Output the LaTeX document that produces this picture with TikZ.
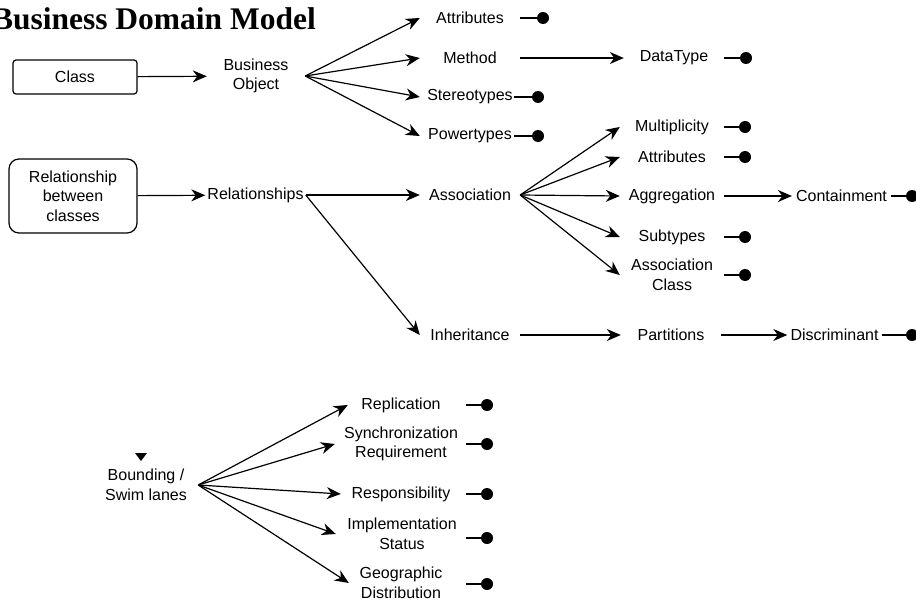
\documentclass[tikz,border=0pt]{standalone}
\usepackage{fontspec}
\setmainfont{Liberation Sans}
\newfontfamily\titlefont{Liberation Serif}
\usetikzlibrary{arrows.meta}
\begin{document}
\begin{tikzpicture}[x=1pt,y=-1pt,
  lbl/.style={inner sep=0pt, align=center, font=\fontsize{16}{19.5}\selectfont},
  box/.style={draw, line width=1.2pt, align=center, inner sep=0pt, font=\fontsize{16}{19.5}\selectfont},
  arr/.style={line width=1.2pt, -{Stealth[length=14pt,width=12pt,inset=4.5pt]}},
  pinl/.style={line width=1.2pt},
  dot/.style={circle, fill=black, inner sep=0pt, minimum size=12pt}]
\useasboundingbox (0,0) rectangle (916,605);

% title
\node[anchor=base east, inner sep=0pt, font=\titlefont\bfseries\fontsize{31.5}{34}\selectfont] (title) at (316,29) {Business Domain Model};

% ---------- group 1 ----------
\node[box, rounded corners=3pt, minimum width=124pt, minimum height=34pt] (cls) at (75,77) {Class};
\node[lbl, minimum width=98pt] (bo) at (256,76) {Business\\Object};
\draw[arr] (cls) -- (bo);

\node[lbl, minimum width=100pt] (attr1) at (470,18) {Attributes};
\node[lbl, minimum width=100pt] (meth) at (470,58) {Method};
\node[lbl, minimum width=100pt] (ster) at (470,97) {Stereotypes};
\node[lbl, minimum width=100pt] (powr) at (470,136) {Powertypes};
\node[lbl, minimum width=100pt] (dtyp) at (674,58) {DataType};

\foreach \t in {attr1,meth,ster,powr} \draw[arr] (bo.east) -- (\t.west);
\draw[arr] (meth.east) -- (dtyp.west);

\node[dot] (d1) at (543,18) {};
\node[dot] (d2) at (538,97) {};
\node[dot] (d3) at (538,136) {};
\node[dot] (d4) at (746,58) {};
\draw[pinl] (attr1.east) -- (d1);
\draw[pinl] (d2) -- ++(-24,0);
\draw[pinl] (d3) -- ++(-24,0);
\draw[pinl] (dtyp.east) -- (d4);

% ---------- group 2 ----------
\node[box, rounded corners=10pt, minimum width=128pt, minimum height=74pt] (relb) at (73,196) {Relationship\\between\\classes};
\node[lbl, inner xsep=2pt] (rels) at (255.5,195) {Relationships};
\draw[arr] (relb) -- (rels);

\node[lbl, minimum width=100pt] (assoc) at (470,195) {Association};
\node[lbl, minimum width=100pt] (inher) at (470,335) {Inheritance};
\draw[arr] (rels.east) -- (assoc.west);
\draw[arr] (rels.east) -- (inher.west);

\node[lbl, minimum width=104pt] (mult) at (672,127) {Multiplicity};
\node[lbl, minimum width=104pt] (attr2) at (672,157) {Attributes};
\node[lbl, minimum width=104pt] (aggr) at (672,196) {Aggregation};
\node[lbl, minimum width=104pt] (subt) at (672,237) {Subtypes};
\node[lbl, minimum width=104pt] (ascl) at (672,275) {Association\\Class};
\foreach \t in {mult,attr2,aggr,subt,ascl} \draw[arr] (assoc.east) -- (\t.west);

\node[lbl, inner xsep=4pt] (cont) at (841.5,196) {Containment};
\draw[arr] (aggr.east) -- (cont.west);

\node[lbl, minimum width=100pt] (part) at (671,335) {Partitions};
\node[lbl, inner xsep=3pt] (disc) at (834.5,335) {Discriminant};
\draw[arr] (inher.east) -- (part.west);
\draw[arr] (part.east) -- (disc.west);

\node[dot] (e1) at (745,127) {};
\node[dot] (e2) at (745,157) {};
\node[dot] (e3) at (745,237) {};
\node[dot] (e4) at (745,275) {};
\node[dot] (e5) at (912,196) {};
\node[dot] (e6) at (912,335) {};
\draw[pinl] (mult.east) -- (e1);
\draw[pinl] (attr2.east) -- (e2);
\draw[pinl] (subt.east) -- (e3);
\draw[pinl] (ascl.east) -- (e4);
\draw[pinl] (cont.east) -- (e5);
\draw[pinl] (disc.east) -- (e6);

% ---------- group 3 ----------
\fill (135,453) -- (147,453) -- (141,461) -- cycle;
\node[lbl, minimum width=104pt] (bound) at (146,485) {Bounding /\\Swim lanes};

\node[lbl, minimum width=106pt] (repl) at (401,405) {Replication};
\node[lbl, minimum width=132pt] (sync) at (401,444) {Synchronization\\Requirement};
\node[lbl, minimum width=120pt] (resp) at (401,494) {Responsibility};
\node[lbl, minimum width=132pt] (impl) at (402,534) {Implementation\\Status};
\node[lbl, minimum width=104pt] (geo) at (401,583) {Geographic\\Distribution};
\foreach \t in {repl,sync,resp,impl,geo} \draw[arr] (bound.east) -- (\t.west);

\node[dot] (f1) at (487,405) {};
\node[dot] (f2) at (487,444) {};
\node[dot] (f3) at (487,494) {};
\node[dot] (f4) at (487,538) {};
\node[dot] (f5) at (487,584) {};
\foreach \d in {f1,f2,f3,f4,f5} \draw[pinl] (\d) -- ++(-21,0);
\end{tikzpicture}
\end{document}
